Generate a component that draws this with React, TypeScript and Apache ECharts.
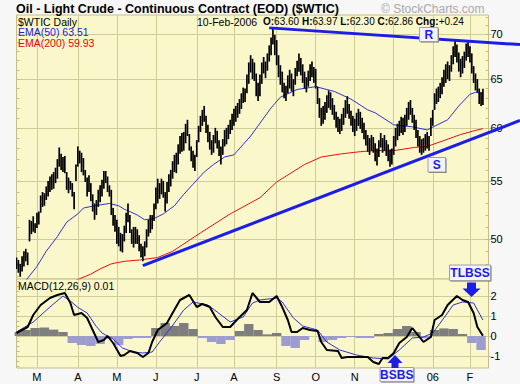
import React, { useEffect, useRef } from 'react';
import * as echarts from 'echarts';

const FONT = '"Liberation Sans", Arial, Helvetica, sans-serif';

// ---- calendar ----
const HOLIDAYS = ['2005-02-21', '2005-03-25', '2005-05-30', '2005-07-04', '2005-09-05', '2005-11-24', '2005-12-26', '2006-01-02', '2006-01-16'];
const FIRST_DAY = [2005, 1, 11];
const LAST_DAY = [2006, 1, 10];
const EMPTY_SLOTS = 3;
const MONTH_LETTERS = ['J', 'F', 'M', 'A', 'M', 'J', 'J', 'A', 'S', 'O', 'N', ''];

// ---- price axis ----
const PRICE_MIN = 46.82;
const PRICE_MAX = 72.21;
const PRICE_TICKS = [50, 55, 60, 65, 70];
const PRICE_MINOR = [47, 48, 49, 50, 51, 52, 53, 54, 55, 56, 57, 58, 59, 60, 61, 62, 63, 64, 65, 66, 67, 68, 69, 70, 71, 72];

// ---- MACD axis ----
const MACD_MIN = -1.6;
const MACD_MAX = 2.85;
const MACD_TICKS = [-1, 0, 1, 2];
const MACD_MINOR = [-1.5, -1.25, -1, -0.75, -0.5, -0.25, 0, 0.25, 0.5, 0.75, 1, 1.25, 1.5, 1.75, 2, 2.25, 2.5, 2.75];

// ---- daily lows / highs (one per trading day) ----
const LOWS = [
  47.6,
  47.3, 47.0, 47.4, 47.8, 48.2, 47.9, 49.8, 50.4, 50.6, 50.5,
  50.9, 51.2, 52.2, 52.7, 52.8, 53.3, 53.6, 54.0, 54.2, 54.3,
  54.8, 55.2, 56.3, 56.0, 55.8, 55.7, 54.2, 53.9, 54.2, 53.6,
  52.5, 55.0, 56.3, 56.6, 55.8, 55.5, 54.9, 53.6, 54.0, 53.2,
  52.3, 51.6, 52.0, 52.7, 53.1, 53.6, 54.3, 54.8, 54.0, 53.6,
  52.0, 51.1, 50.6, 49.6, 49.4, 49.0, 48.9, 49.8, 50.5, 51.4,
  50.5, 49.6, 49.3, 49.6, 49.6, 49.0, 48.5, 48.2, 48.6, 49.3,
  50.2, 50.5, 50.8, 51.5, 52.5, 53.0, 53.4, 53.8, 53.5, 52.3,
  53.0, 54.0, 54.5, 55.2, 55.8, 55.7, 56.5, 57.5, 57.7, 57.8,
  58.5, 59.2, 57.8, 56.8, 56.2, 55.9, 57.2, 58.6, 59.6, 60.2,
  60.6, 59.5, 58.6, 57.9, 57.4, 57.6, 58.5, 58.0, 57.3, 56.5,
  57.4, 58.2, 58.4, 58.9, 59.4, 59.8, 60.2, 60.6, 61.0, 61.4,
  61.9, 62.5, 62.6, 63.5, 64.5, 65.7, 65.0, 64.8, 63.2, 62.7,
  63.2, 64.5, 65.6, 65.1, 65.9, 66.9, 67.6, 68.8, 67.6, 66.5,
  65.2, 64.4, 63.6, 63.0, 62.7, 63.5, 64.0, 63.7, 63.2, 64.4,
  65.3, 65.8, 65.4, 64.6, 64.0, 63.6, 64.2, 64.8, 65.2, 64.6,
  64.0, 62.4, 61.0, 60.2, 60.4, 60.8, 61.5, 62.0, 61.8, 61.3,
  60.8, 60.0, 59.6, 59.4, 59.7, 60.3, 61.0, 61.4, 60.9, 60.2,
  59.6, 59.2, 59.7, 60.2, 59.9, 59.5, 58.9, 58.3, 57.7, 57.4,
  57.8, 57.6, 56.8, 56.4, 57.2, 58.1, 57.6, 57.8, 57.3, 56.8,
  56.3, 56.5, 57.4, 58.2, 58.8, 59.2, 59.5, 59.3, 59.6, 60.2,
  60.8, 61.3, 60.5, 59.8, 59.0, 58.2, 57.6, 57.4, 57.6, 57.8,
  58.0, 57.8, 59.2, 60.2, 61.8, 62.4, 62.6, 63.0, 63.4, 64.2,
  64.6, 65.0, 64.8, 65.8, 66.6, 67.4, 66.8, 65.8, 65.2, 65.6,
  66.2, 67.0, 67.4, 66.8, 65.6, 64.6, 63.8, 63.6, 62.4, 62.2,
  62.30,
];
const HIGHS = [
  48.5,
  48.3, 48.0, 48.6, 49.0, 49.2, 48.9, 51.6, 51.5, 51.9, 51.3,
  52.2, 52.3, 53.7, 54.0, 53.9, 54.5, 55.0, 55.4, 55.6, 55.8,
  56.2, 57.0, 58.1, 57.5, 57.2, 57.3, 55.8, 55.3, 55.0, 54.8,
  54.0, 56.5, 58.2, 57.8, 57.6, 57.1, 56.0, 55.3, 55.5, 54.8,
  53.8, 53.0, 53.3, 54.2, 54.6, 55.1, 55.9, 55.9, 55.4, 54.6,
  54.2, 52.6, 52.0, 51.6, 51.0, 50.5, 50.4, 51.1, 52.2, 53.0,
  52.0, 50.8, 51.0, 51.0, 50.8, 50.3, 49.6, 49.4, 49.8, 50.8,
  51.6, 52.0, 52.0, 53.0, 54.4, 55.2, 54.8, 55.2, 55.0, 54.0,
  54.9, 55.6, 56.0, 56.8, 57.4, 57.6, 58.4, 59.2, 59.5, 59.6,
  60.4, 60.8, 59.4, 58.2, 57.8, 57.4, 58.8, 60.2, 61.2, 61.8,
  62.2, 61.2, 60.3, 59.6, 58.8, 59.3, 60.0, 59.7, 58.8, 58.2,
  58.9, 59.8, 60.0, 60.3, 60.8, 61.4, 61.9, 62.2, 62.5, 62.9,
  63.5, 64.1, 64.0, 65.5, 66.8, 67.6, 67.2, 66.8, 65.6, 64.6,
  65.5, 66.8, 67.4, 66.9, 67.8, 68.7, 69.6, 70.7, 69.9, 69.3,
  67.6, 66.5, 65.8, 64.6, 64.3, 65.4, 66.0, 65.6, 65.0, 66.2,
  67.0, 67.8, 67.3, 66.6, 65.8, 65.2, 65.9, 66.6, 66.9, 66.3,
  66.1, 64.2, 63.0, 62.0, 62.2, 62.6, 63.3, 63.8, 63.6, 63.0,
  62.3, 61.6, 61.1, 60.9, 61.4, 62.0, 62.8, 63.2, 62.4, 61.7,
  61.2, 60.9, 61.5, 61.9, 61.6, 61.0, 60.5, 59.8, 59.3, 59.0,
  59.3, 59.1, 58.5, 58.0, 58.8, 59.5, 59.0, 59.3, 58.8, 58.4,
  57.9, 58.0, 59.2, 60.0, 60.4, 60.7, 61.1, 61.0, 61.3, 62.0,
  62.6, 62.8, 62.0, 61.3, 60.8, 59.8, 59.2, 58.9, 59.0, 59.4,
  59.6, 59.2, 61.0, 61.8, 63.5, 64.0, 64.2, 64.6, 65.2, 66.0,
  66.6, 66.9, 66.5, 67.6, 68.6, 69.3, 68.8, 67.9, 67.2, 67.5,
  68.0, 68.9, 69.2, 68.6, 67.8, 66.4, 65.6, 65.0, 64.0, 63.6,
  63.97,
];

// ---- moving averages: [trading-day index, value] ----
const EMA50: [number, number][] = [
  [5, 46.7], [11, 47.8], [16, 49.0], [22, 50.2], [27, 51.4], [33, 52.1], [36, 52.6], [42, 52.8],
  [50, 53.0], [55, 52.8], [58, 52.5], [61, 52.3], [65, 52.0], [69, 51.6], [74, 51.7], [79, 52.1],
  [85, 52.8], [90, 53.8], [95, 54.7], [101, 55.8], [106, 56.5], [112, 57.2], [117, 57.4], [122, 58.4],
  [126, 59.2], [130, 60.2], [137, 62.0], [142, 63.1], [151, 63.9], [161, 64.2], [171, 63.7], [180, 62.9],
  [189, 61.8], [193, 61.5], [203, 60.3], [213, 60.1], [221, 59.8], [232, 60.8], [238, 62.2], [244, 63.4],
  [247, 63.6], [251, 63.51],
];
const EMA200: [number, number][] = [
  [30, 46.6], [40, 47.2], [45, 47.6], [51, 48.0], [58, 48.2], [66, 48.3], [76, 48.5], [84, 49.0],
  [99, 50.5], [115, 52.1], [131, 53.5], [140, 54.9], [155, 56.5], [164, 57.2], [175, 57.5], [185, 57.7],
  [193, 57.8], [203, 57.8], [214, 58.1], [221, 58.2], [229, 58.7], [239, 59.35], [246, 59.7], [251, 59.93],
];

// ---- MACD(12,26,9) ----
const MACD_LINE: [number, number][] = [
  [0, 0.15], [6, 0.45], [9, 1.05], [13, 1.55], [18, 1.9], [22, 2.05], [26, 2.15], [29, 1.65], [31, 1.05], [35, 1.15],
  [38, 0.9], [41, 0.3], [44, -0.3], [47, -0.2], [49, 0.0], [52, -0.35], [56, -1.0], [58, -0.95], [61, -0.75], [65, -0.85],
  [68, -1.05], [71, -0.85], [73, -0.3], [76, 0.3], [81, 0.65], [84, 1.15], [88, 1.8], [93, 2.05], [97, 1.45], [100, 1.6],
  [104, 1.45], [107, 0.95], [111, 0.45], [115, 0.45], [119, 0.85], [124, 1.3], [127, 2.15], [131, 1.7], [136, 1.7], [140, 2.0],
  [143, 1.45], [146, 0.8], [148, 0.2], [151, 0.2], [154, 0.4], [158, 0.3], [162, 0.25], [164, -0.3], [167, -0.7], [173, -0.75],
  [175, -1.1], [178, -1.05], [182, -1.05], [189, -1.05], [192, -1.3], [195, -1.4], [197, -1.1], [200, -1.1], [203, -0.85], [206, -0.35],
  [210, -0.05], [213, 0.4], [216, 0.05], [219, -0.3], [223, -0.05], [225, 0.8], [229, 1.05], [232, 1.55], [237, 2.0], [240, 1.8],
  [243, 1.7], [246, 1.15], [248, 0.45], [251, 0.01],
];
const SIGNAL_LINE: [number, number][] = [
  [0, 0.2], [9, 0.7], [18, 1.45], [25, 2.0], [29, 1.75], [33, 1.43], [38, 1.15], [43, 0.47], [46, 0.15], [49, 0.0],
  [52, -0.15], [57, -0.6], [63, -0.8], [68, -0.85], [73, -0.8], [77, -0.3], [83, 0.4], [90, 1.3], [95, 1.7], [103, 1.55],
  [108, 1.2], [115, 0.7], [122, 0.95], [127, 1.65], [131, 1.8], [140, 1.9], [143, 1.7], [149, 0.9], [154, 0.5], [162, 0.3],
  [167, -0.3], [174, -0.7], [183, -0.95], [192, -1.1], [200, -1.15], [206, -0.7], [213, -0.1], [219, -0.05], [224, 0.15], [230, 0.9],
  [235, 1.55], [240, 1.7], [246, 1.65], [251, 0.8],
];
const HISTOGRAM: [number, number][] = [
  [0, 0.2], [5, 0.3], [10, 0.4], [15, 0.42], [20, 0.32], [25, 0.2], [30, -0.35], [35, -0.45], [40, -0.5], [45, -0.4],
  [50, -0.13], [55, -0.45], [60, -0.15], [65, -0.1], [70, -0.1], [75, 0.4], [80, 0.65], [85, 0.5], [90, 0.65], [95, 0.35],
  [100, -0.1], [105, -0.3], [110, -0.4], [115, -0.2], [120, 0.25], [125, 0.6], [130, 0.3], [135, 0.08], [140, 0.15], [145, -0.5],
  [150, -0.6], [155, -0.2], [160, 0.0], [165, -0.3], [170, -0.2], [175, -0.1], [180, -0.05], [185, -0.1], [190, -0.1], [195, 0.1],
  [200, 0.15], [205, 0.35], [210, 0.5], [215, 0.2], [220, -0.12], [225, 0.3], [230, 0.38], [235, 0.35], [240, 0.1], [245, -0.35],
  [250, -0.7],
];

// ---- trendline anchors [trading-day index, price] ----
const RESISTANCE: [number, number][] = [[136, 70.7], [251, 69.07]];
const SUPPORT: [number, number][] = [[68, 47.86], [251, 59.33]];

// ---- header texts ----
const TITLE = 'Oil - Light Crude - Continuous Contract (EOD) ($WTIC)';
const QUOTE_DATE = '10-Feb-2006';
const QUOTE_ITEMS: [string, string][] = [['O:', '63.60'], ['H:', '63.97'], ['L:', '62.30'], ['C:', '62.86'], ['Chg:', '+0.24']];

const PANEL = '#FAF8CB';
const BORDER = '#C4BE86';
const GRIDC = '#D0CC98';
const BLUE = '#1C1CEB';

function tradingDays(): string[] {
  const out: string[] = [];
  const d = new Date(Date.UTC(FIRST_DAY[0], FIRST_DAY[1], FIRST_DAY[2]));
  const end = Date.UTC(LAST_DAY[0], LAST_DAY[1], LAST_DAY[2]);
  while (d.getTime() <= end) {
    const wd = d.getUTCDay();
    const s = d.toISOString().slice(0, 10);
    if (wd !== 0 && wd !== 6 && HOLIDAYS.indexOf(s) < 0) out.push(s);
    d.setUTCDate(d.getUTCDate() + 1);
  }
  return out;
}

const LN = Math.log;

function textEl(x: number, y: number, text: string, fill: string, font: string, align = 'left', extra: any = {}) {
  return {
    type: 'text', x, y, z: 120,
    style: { text, fill, font, align, verticalAlign: 'middle', textAlign: align, textVerticalAlign: 'middle', ...extra },
  };
}

function labelBox(x: number, y: number, w: number, h: number, text: string) {
  return [
    { type: 'rect', z: 110, shape: { x: x + 1, y: y + 1, width: w, height: h }, style: { fill: '#6E6E6E' } },
    { type: 'rect', z: 111, shape: { x, y, width: w, height: h }, style: { fill: '#F3F3F8', stroke: '#A0A0A0', lineWidth: 1 } },
    textEl(x + w / 2, y + h / 2 + 0.5, text, BLUE, 'bold 12px ' + FONT, 'center'),
  ];
}

export default function App() {
  const ref = useRef<HTMLDivElement>(null);

  useEffect(() => {
    const el = ref.current;
    if (!el) return;
    const chart = echarts.init(el, undefined, { renderer: 'svg', width: 520, height: 384 });

    const days = tradingDays();
    const cats = days.concat(Array.from({ length: EMPTY_SLOTS }, () => ''));
    const monthStart = new Set<number>();
    for (let i = 1; i < days.length; i++) {
      if (days[i].slice(5, 7) !== days[i - 1].slice(5, 7)) monthStart.add(i);
    }
    const isMS = (i: number) => monthStart.has(i);

    const xBase: any = {
      type: 'category', data: cats, boundaryGap: false,
      axisLine: { show: false }, axisTick: { show: false },
      splitLine: { show: true, interval: (i: number) => isMS(i), lineStyle: { color: GRIDC, width: 1 } },
    };
    const lblStyle = { color: '#000', fontSize: 11, fontFamily: FONT };
    const tickStyle = { color: BORDER, width: 1 };

    const option: any = {
      animation: false,
      backgroundColor: '#F7F7F7',
      textStyle: { fontFamily: FONT },
      grid: [
        { left: 16.5, top: 15, width: 472, height: 264, show: true, backgroundColor: PANEL, borderColor: BORDER, borderWidth: 1, containLabel: false, outerBoundsMode: 'none' },
        { left: 16.5, top: 279, width: 472, height: 89, show: true, backgroundColor: PANEL, borderColor: BORDER, borderWidth: 1, containLabel: false, outerBoundsMode: 'none' },
      ],
      xAxis: [
        { ...xBase, gridIndex: 0, axisLabel: { show: false } },
        {
          ...xBase, gridIndex: 1,
          axisLabel: {
            show: true, ...lblStyle, margin: 3,
            interval: (i: number) => isMS(i) && days[i].slice(5, 7) !== '12',
            formatter: (v: string) => {
              if (!v) return '';
              const m = +v.slice(5, 7);
              return m === 1 ? v.slice(2, 4) : MONTH_LETTERS[m - 1];
            },
          },
        },
      ],
      yAxis: [
        {
          type: 'value', gridIndex: 0, position: 'right', min: LN(PRICE_MIN), max: LN(PRICE_MAX),
          axisLine: { show: false },
          axisTick: { show: true, length: 3, customValues: PRICE_TICKS.map(LN), lineStyle: tickStyle },
          axisLabel: { show: true, ...lblStyle, margin: 2, customValues: PRICE_TICKS.map(LN), formatter: (v: number) => String(Math.round(Math.exp(v))) },
          splitLine: { show: true, lineStyle: { color: GRIDC, width: 1 } },
        },
        {
          type: 'value', gridIndex: 0, position: 'right', min: LN(PRICE_MIN), max: LN(PRICE_MAX),
          axisLine: { show: false }, axisLabel: { show: false }, splitLine: { show: false },
          axisTick: { show: true, inside: true, length: 3, customValues: PRICE_MINOR.map(LN), lineStyle: tickStyle },
        },
        {
          type: 'value', gridIndex: 0, position: 'left', min: LN(PRICE_MIN), max: LN(PRICE_MAX),
          axisLine: { show: false }, axisLabel: { show: false }, splitLine: { show: false },
          axisTick: { show: true, inside: true, length: 3, customValues: PRICE_MINOR.map(LN), lineStyle: tickStyle },
        },
        {
          type: 'value', gridIndex: 1, position: 'right', min: MACD_MIN, max: MACD_MAX,
          axisLine: { show: false },
          axisTick: { show: true, length: 3, customValues: MACD_TICKS, lineStyle: tickStyle },
          axisLabel: { show: true, ...lblStyle, margin: 2, customValues: MACD_TICKS, formatter: (v: number) => String(v) },
          splitLine: { show: true, lineStyle: { color: GRIDC, width: 1 } },
        },
        {
          type: 'value', gridIndex: 1, position: 'left', min: MACD_MIN, max: MACD_MAX,
          axisLine: { show: false }, axisLabel: { show: false }, splitLine: { show: false },
          axisTick: { show: true, inside: true, length: 3, customValues: MACD_MINOR, lineStyle: tickStyle },
        },
      ],
      series: [
        {
          type: 'line', name: 'EMA200', xAxisIndex: 0, yAxisIndex: 0, z: 3,
          data: EMA200.map(([i, v]) => [i, LN(v)]), showSymbol: false, symbol: 'none', clip: true,
          lineStyle: { color: '#EE0E0E', width: 1 },
        },
        {
          type: 'line', name: 'EMA50', xAxisIndex: 0, yAxisIndex: 0, z: 3,
          data: EMA50.map(([i, v]) => [i, LN(v)]), showSymbol: false, symbol: 'none', clip: true,
          lineStyle: { color: '#3030D8', width: 1 },
        },
        {
          type: 'custom', name: 'WTIC', xAxisIndex: 0, yAxisIndex: 0, z: 4, clip: true,
          data: LOWS.map((l, i) => [i, LN(l), LN(HIGHS[i])]),
          encode: { x: 0, y: [1, 2] },
          renderItem: (_p: any, api: any) => {
            const x = api.value(0);
            const lo = api.coord([x, api.value(1)]);
            const hi = api.coord([x, api.value(2)]);
            return {
              type: 'line',
              shape: { x1: lo[0], y1: lo[1], x2: hi[0], y2: hi[1] },
              style: { stroke: '#000', lineWidth: 1.7 },
            };
          },
        },
        {
          type: 'bar', name: 'Hist', xAxisIndex: 1, yAxisIndex: 3, z: 2,
          data: HISTOGRAM, barWidth: 9.4, clip: true,
          itemStyle: { color: (p: any) => (p.value[1] >= 0 ? '#7E7E7E' : '#9C9CCF') },
        },
        {
          type: 'line', name: 'Signal', xAxisIndex: 1, yAxisIndex: 3, z: 3,
          data: SIGNAL_LINE, showSymbol: false, symbol: 'none',
          lineStyle: { color: '#2E2EE0', width: 1 },
        },
        {
          type: 'line', name: 'MACD', xAxisIndex: 1, yAxisIndex: 3, z: 4,
          data: MACD_LINE, showSymbol: false, symbol: 'none',
          lineStyle: { color: '#000', width: 2 },
        },
      ],
    };

    chart.setOption(option);

    const toPx = (i: number, p: number) => chart.convertToPixel({ gridIndex: 0 }, [i, LN(p)]) as number[];
    const trend = (pts: [number, number][]) => {
      const a = toPx(pts[0][0], pts[0][1]);
      const b = toPx(pts[1][0], pts[1][1]);
      const xe = 520;
      const ye = a[1] + ((b[1] - a[1]) * (xe - a[0])) / (b[0] - a[0]);
      return { type: 'line', z: 105, shape: { x1: a[0], y1: a[1], x2: xe, y2: ye }, style: { stroke: BLUE, lineWidth: 3 } };
    };

    const quoteRich = QUOTE_ITEMS.map(([k, v]) => `{b|${k}}{n|${v}}`).join('{n| }');

    const graphics: any[] = [
      textEl(16, 8.5, TITLE, '#000', 'bold 12.5px ' + FONT),
      textEl(381, 8.5, '\u00A9 StockCharts.com', '#A9A9A9', '12px ' + FONT),
      textEl(18, 21.5, '$WTIC Daily', '#000', '10.5px ' + FONT, 'left', { backgroundColor: PANEL }),
      textEl(18, 32, 'EMA(50) 63.51', '#2020F0', '10.5px ' + FONT),
      textEl(18, 42.5, 'EMA(200) 59.93', '#F00000', '10.5px ' + FONT),
      textEl(197, 21.5, QUOTE_DATE, '#000', '10.5px ' + FONT),
      {
        type: 'text', x: 263, y: 21.5, z: 120,
        style: {
          text: quoteRich, fill: '#000', font: '10px ' + FONT,
          align: 'left', verticalAlign: 'middle', textAlign: 'left', textVerticalAlign: 'middle',
          rich: {
            b: { fontWeight: 'bold', fontSize: 10, fontFamily: FONT, fill: '#000', color: '#000' },
            n: { fontWeight: 'normal', fontSize: 10, fontFamily: FONT, fill: '#000', color: '#000' },
          },
        },
      },
      textEl(18, 286, 'MACD(12,26,9) 0.01', '#000', '10.5px ' + FONT),
      trend(RESISTANCE),
      trend(SUPPORT),
      ...labelBox(419.5, 27.5, 18.5, 14, 'R'),
      ...labelBox(428, 157.5, 17.5, 14.5, 'S'),
      ...labelBox(449.5, 265, 41, 15.5, 'TLBSS'),
      {
        type: 'polygon', z: 112,
        shape: { points: [[467, 282.5], [476, 282.5], [476, 288.5], [480.5, 288.5], [471.5, 297], [462.5, 288.5], [467, 288.5]] },
        style: { fill: BLUE },
      },
      ...labelBox(380, 367.5, 33.5, 14, 'BSBS'),
      {
        type: 'polygon', z: 112,
        shape: { points: [[395, 355], [402.5, 363], [398.5, 363], [398.5, 368], [391.5, 368], [391.5, 363], [387.5, 363]] },
        style: { fill: BLUE },
      },
    ];
    chart.setOption({ graphic: graphics });

    return () => chart.dispose();
  }, []);

  return <div ref={ref} style={{ position: 'fixed', left: 0, top: 0, width: 520, height: 384 }} />;
}
